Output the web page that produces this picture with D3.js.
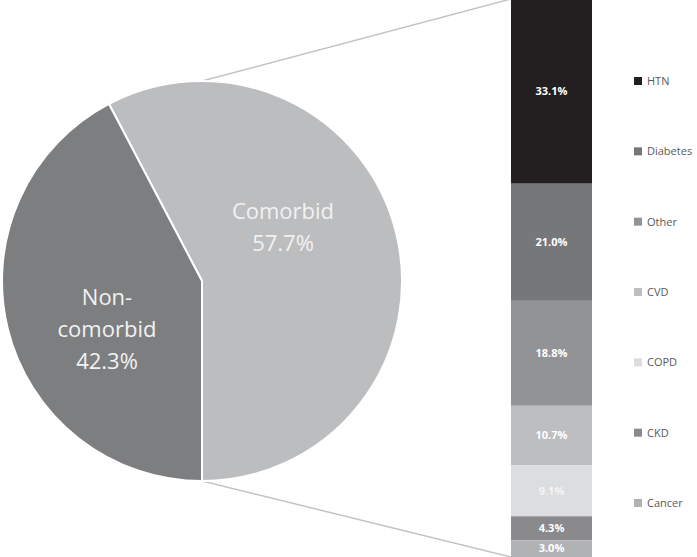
<!DOCTYPE html>
<html>
<head>
	<script src="https://d3js.org/d3.v7.min.js"></script>
	<style type="text/css">
		body { margin: 0; background: #fff; }
		text { font-family: "Open Sans", sans-serif; }
	</style>
</head>
<body>
	<div id="chart"></div>

	<script type="text/javascript">
		// pie data
		var pieNames = [["Non-", "comorbid"], ["Comorbid"]];
		var pieValues = [42.3, 57.7];
		var pieColors = ["#7d7e80", "#bcbdbf"];

		// bar breakdown of comorbid
		var barNames = ["HTN", "Diabetes", "Other", "CVD", "COPD", "CKD", "Cancer"];
		var barValues = [33.1, 21.0, 18.8, 10.7, 9.1, 4.3, 3.0];
		var barColors = ["#231f20", "#76777a", "#929396", "#bdbec0", "#dcdddf", "#8a8a8c", "#b1b2b4"];

		var width = 697, height = 557;

		var svg = d3.select("#chart")
			.append("svg")
			.attr("width", width)
			.attr("height", height);

		var cx = 202, cy = 281, r = 200;
		var barX0 = 511, barX1 = 592;

		var yscale = d3.scaleLinear().domain([0, 100]).range([-1, 557]);

		// connector lines (under the pie)
		svg.append("line")
			.attr("x1", cx).attr("y1", cy - r)
			.attr("x2", barX0).attr("y2", yscale(0))
			.attr("stroke", "#c3c3c3").attr("stroke-width", 1.5);
		svg.append("line")
			.attr("x1", cx).attr("y1", cy + r)
			.attr("x2", barX0).attr("y2", yscale(100))
			.attr("stroke", "#c3c3c3").attr("stroke-width", 1.5);

		// pie: comorbid slice ends straight down
		var comorbidShare = pieValues[1] / d3.sum(pieValues);
		var start = Math.PI - 2 * Math.PI * comorbidShare;
		var order = [1, 0];
		var pie = d3.pie().sort(null).startAngle(start).endAngle(start + 2 * Math.PI);
		var arcs = pie(order.map(function(i){ return pieValues[i]; }));
		var arc = d3.arc().innerRadius(0).outerRadius(r);

		var g = svg.append("g").attr("transform", "translate(" + cx + "," + cy + ")");
		g.selectAll("path")
			.data(arcs)
			.enter().append("path")
			.attr("d", arc)
			.attr("fill", function(d, i){ return pieColors[order[i]]; })
			.attr("stroke", "#fff")
			.attr("stroke-width", 2);

		// pie labels
		var labelPos = [[107 - cx, 305 - cy], [283 - cx, 219 - cy]];
		order.forEach(function(idx, k){
			var lines = pieNames[idx].concat([pieValues[idx].toFixed(1) + "%"]);
			var t = g.append("text")
				.attr("text-anchor", "middle")
				.attr("fill", "#f2f2f2")
				.style("font-size", "22px");
			lines.forEach(function(s, j){
				t.append("tspan")
					.attr("x", labelPos[idx][0])
					.attr("y", labelPos[idx][1] + j * 32)
					.text(s);
			});
		});

		// stacked bar
		var cum = 0;
		var stack = barValues.map(function(v){ var o = {y0: cum, y1: cum + v}; cum += v; return o; });

		svg.selectAll("rect.seg")
			.data(stack)
			.enter().append("rect")
			.attr("class", "seg")
			.attr("x", barX0)
			.attr("width", barX1 - barX0)
			.attr("y", function(d){ return yscale(d.y0); })
			.attr("height", function(d){ return yscale(d.y1) - yscale(d.y0); })
			.attr("fill", function(d, i){ return barColors[i]; });

		svg.selectAll("text.seg")
			.data(stack)
			.enter().append("text")
			.attr("class", "seg")
			.attr("x", (barX0 + barX1) / 2)
			.attr("y", function(d){ return (yscale(d.y0) + yscale(d.y1)) / 2; })
			.attr("dy", "0.35em")
			.attr("text-anchor", "middle")
			.attr("fill", function(d, i){ return barNames[i] == "COPD" ? "#f4f4f4" : "#ffffff"; })
			.style("font-size", "11px")
			.style("font-weight", "bold")
			.text(function(d, i){ return barValues[i].toFixed(1) + "%"; });

		// legend
		var ly = d3.scalePoint().domain(barNames).range([81, 503]);
		var leg = svg.selectAll("g.leg")
			.data(barNames)
			.enter().append("g")
			.attr("class", "leg")
			.attr("transform", function(d){ return "translate(634," + ly(d) + ")"; });
		leg.append("rect")
			.attr("x", 0).attr("y", -4)
			.attr("width", 8).attr("height", 8)
			.attr("fill", function(d, i){ return barColors[i]; });
		leg.append("text")
			.attr("x", 13)
			.attr("dy", "0.35em")
			.attr("fill", "#595959")
			.style("font-size", "11px")
			.text(function(d){ return d; });
	</script>
</body>
</html>
